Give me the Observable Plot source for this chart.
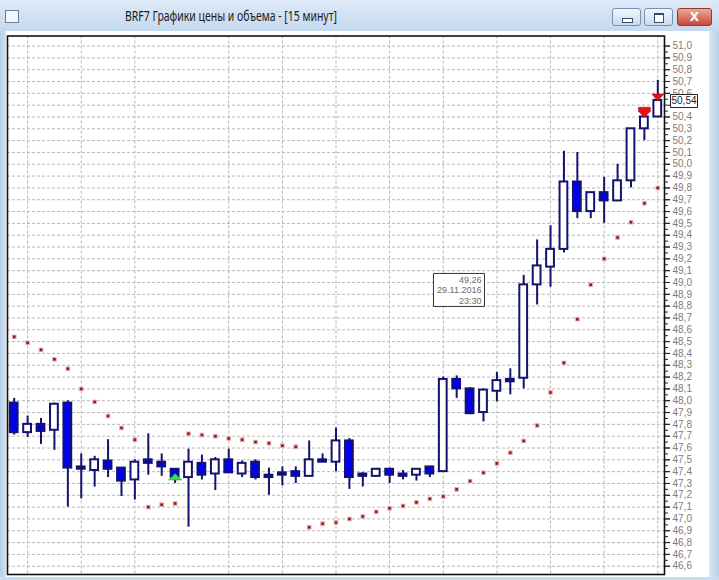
<!DOCTYPE html>
<html>
<head>
<meta charset="utf-8">
<script src="https://cdn.jsdelivr.net/npm/d3@7"></script>
<script src="https://cdn.jsdelivr.net/npm/@observablehq/plot@0.6"></script>
<style>
html,body{margin:0;padding:0;background:#fff;}
#win{position:relative;width:719px;height:580px;overflow:hidden;background:#fff;font-family:"Noto Sans",sans-serif;}
#titlebar{position:absolute;left:0;top:0;width:719px;height:31px;background:linear-gradient(#dde9f7,#c5d9ef);}
#title{position:absolute;top:7px;left:125px;white-space:nowrap;font-size:14px;line-height:18px;color:#1a1a1a;transform-origin:0 50%;}
#icon{position:absolute;left:5px;top:10px;width:12px;height:11px;border:1px solid #6a7f99;background:#f4f7fb;}
#lb{position:absolute;left:0;top:31px;width:6px;height:549px;background:linear-gradient(90deg,#b7cde8,#d3e2f4);}
#rb{position:absolute;left:709px;top:31px;width:10px;height:549px;background:linear-gradient(90deg,#dce8f6,#b8cfea);}
#bb{position:absolute;left:0;top:577px;width:719px;height:3px;background:#c9dbef;}
#chart{position:absolute;left:0;top:31px;}
.btn{position:absolute;top:8px;height:18px;border:1px solid #7890ae;border-radius:3px;background:linear-gradient(#f2f6fb,#c9daee);box-sizing:border-box;}
.btn.close{border-color:#8e3b30;background:linear-gradient(#eba996,#c8483a);color:#fff;font:bold 12px "DejaVu Sans",sans-serif;text-align:center;line-height:16px;}
.mini{position:absolute;left:9px;top:9px;width:9px;height:3px;border:1px solid #3b4d66;background:#fff;}
.maxi{position:absolute;left:9px;top:4px;width:8px;height:7px;border:1px solid #3b4d66;border-top-width:2px;background:#fff;}
</style>
</head>
<body>
<div id="win">
  <div id="titlebar">
    <div id="icon"></div>
    <span id="title">BRF7 Графики цены и объема - [15 минут]</span>
    <div class="btn" style="left:612px;width:29px;"><div class="mini"></div></div>
    <div class="btn" style="left:644px;width:29px;"><div class="maxi"></div></div>
    <div class="btn close" style="left:677px;width:35px;">X</div>
  </div>
  <div id="lb"></div>
  <div id="rb"></div>
  <div id="chart"></div>
  <div id="bb"></div>
</div>
<script>
// ---- data (15-minute candles, index 0..48) ----
const opens  = [47.98,47.73,47.80,47.75,47.98,47.44,47.41,47.49,47.43,47.33,47.50,47.48,47.42,47.35,47.47,47.38,47.50,47.38,47.48,47.37,47.39,47.40,47.36,47.50,47.48,47.66,47.38,47.36,47.42,47.38,47.37,47.44,47.40,48.18,48.10,47.90,48.08,48.18,48.19,48.98,49.13,49.28,49.85,49.60,49.76,49.69,49.86,50.30,50.40];
const highs  = [48.02,47.87,47.85,47.98,48.00,47.55,47.53,47.67,47.43,47.50,47.72,47.55,47.42,47.59,47.54,47.52,47.59,47.49,47.50,47.43,47.44,47.44,47.66,47.55,47.77,47.68,47.39,47.42,47.43,47.41,47.42,47.44,48.20,48.21,48.11,48.10,48.24,48.27,49.06,49.36,49.48,50.11,50.10,49.76,49.89,50.00,50.30,50.43,50.71];
const lows   = [47.71,47.69,47.63,47.58,47.10,47.17,47.27,47.35,47.19,47.16,47.37,47.36,47.30,46.93,47.33,47.24,47.39,47.35,47.33,47.20,47.28,47.30,47.36,47.48,47.40,47.25,47.27,47.36,47.30,47.33,47.32,47.35,47.40,48.02,47.89,47.82,47.99,48.05,48.10,48.81,48.96,49.25,49.54,49.54,49.50,49.69,49.80,50.20,50.40];
const closes = [47.73,47.80,47.74,47.97,47.43,47.42,47.50,47.42,47.32,47.48,47.47,47.44,47.35,47.48,47.37,47.50,47.39,47.47,47.35,47.35,47.37,47.36,47.50,47.48,47.66,47.35,47.36,47.42,47.37,47.36,47.42,47.38,48.18,48.10,47.89,48.09,48.17,48.16,48.98,49.14,49.28,49.85,49.60,49.76,49.69,49.86,50.30,50.40,50.54];
// parabolic SAR dots
const sar = [48.54,48.49,48.43,48.35,48.27,48.10,47.99,47.87,47.77,47.67,47.10,47.12,47.13,47.72,47.71,47.70,47.68,47.67,47.65,47.64,47.62,47.61,46.93,46.96,46.97,47.00,47.02,47.06,47.09,47.11,47.14,47.17,47.19,47.25,47.32,47.39,47.47,47.56,47.66,47.79,48.07,48.32,48.69,48.98,49.20,49.38,49.51,49.67,49.80];
// signals
const buyIdx = [12], buyPrice = [47.355];
const sellIdx = [47, 48], sellPrice = [50.44, 50.565];
// vertical time grid (candle index of each hour line)
const gridIdx = [1,5,9,16,20,24,28,32,36,40,44,48];
// price ticks
const yTicks = [46.6,46.7,46.8,46.9,47.0,47.1,47.2,47.3,47.4,47.5,47.6,47.7,47.8,47.9,48.0,48.1,48.2,48.3,48.4,48.5,48.6,48.7,48.8,48.9,49.0,49.1,49.2,49.3,49.4,49.5,49.6,49.7,49.8,49.9,50.0,50.1,50.2,50.3,50.4,50.5,50.6,50.7,50.8,50.9,51.0];
const lastPrice = 50.54, lastLabel = "50,54";
const tipLines = ["49,26", "29.11.2016", "23:30"];
const tipPrice = 48.937, tipIdxBox = 33, tipIdxText = 35;

const candles = opens.map((o, i) => ({i, o, h: highs[i], l: lows[i], c: closes[i]}));
const sarData = sar.map((v, i) => ({i, v}));
const minorTicks = yTicks.slice(0, -1).map(t => +(t + 0.05).toFixed(2));
const idx = candles.map(d => d.i);
// the tick label hidden under the last-price box in the original is not drawn
const labelTicks = yTicks.filter(t => Math.abs(t - lastPrice) > 0.05);

const navy = "#13136f";
const flatUp = {draw(ctx){ctx.moveTo(0,-3.5);ctx.lineTo(6.5,3);ctx.lineTo(-6.5,3);ctx.closePath();}};
const sellShapes = [
  {draw(ctx){ctx.moveTo(-6,-5);ctx.lineTo(6,-5);ctx.lineTo(6,-1);ctx.lineTo(0,5);ctx.lineTo(-6,-1);ctx.closePath();}},
  {draw(ctx){ctx.moveTo(-6,-3.5);ctx.lineTo(6,-3.5);ctx.lineTo(0,3.5);ctx.closePath();}}
];
const rectSym = (w, h) => ({draw(ctx){ctx.rect(-w/2,-h/2,w,h);}});

const dash = {stroke: "#b8b8b8", strokeDasharray: "3,2", strokeWidth: 1};

const chart = Plot.plot({
  width: 709,
  height: 545,
  marginLeft: 7,
  marginRight: 45,
  marginTop: 4.5,
  marginBottom: 2,
  style: {fontFamily: "'Liberation Sans', Arial, sans-serif", fontSize: "10px", background: "transparent"},
  x: {type: "band", domain: idx, paddingInner: 0.42, paddingOuter: 0.21, round: false, axis: null},
  y: {domain: [46.53, 51.085]},
  marks: [
    Plot.ruleY(yTicks, {y: d => d, ...dash}),
    Plot.ruleX(gridIdx, {x: d => d, ...dash}),
    Plot.dot(sarData, {x: "i", y: "v", symbol: "square", r: 2.1, fill: "#8a1d1d", stroke: "#f2b8b8", strokeWidth: 1.2, strokeOpacity: 0.8}),
    Plot.ruleX(candles, {x: "i", y1: "l", y2: "h", stroke: navy, strokeWidth: 2}),
    Plot.barY(candles.filter(d => d.c >= d.o), {x: "i", y1: "o", y2: "c", fill: "#fff", stroke: navy, strokeWidth: 2}),
    Plot.barY(candles.filter(d => d.c < d.o), {x: "i", y1: "o", y2: "c", fill: "#0000ee", stroke: navy, strokeWidth: 2}),
    Plot.dot(buyIdx.map((i, k) => ({i, v: buyPrice[k]})), {x: "i", y: "v", symbol: flatUp, r: 5, fill: "#35e04c", stroke: "#1fa83a", strokeWidth: 0.6}),
    Plot.dot(sellIdx.map((i, k) => ({i, v: sellPrice[k], k})).filter(d => d.k === 0), {x: "i", y: "v", symbol: sellShapes[0], r: 5, fill: "#e51212", stroke: "#b00000", strokeWidth: 0.5}),
    Plot.dot(sellIdx.map((i, k) => ({i, v: sellPrice[k], k})).filter(d => d.k === 1), {x: "i", y: "v", symbol: sellShapes[1], r: 5, fill: "#e51212", stroke: "#b00000", strokeWidth: 0.5}),
    Plot.frame({stroke: "#111", strokeWidth: 1.6}),
    Plot.axisY(minorTicks, {anchor: "right", tickSize: 3, tickFormat: () => "", stroke: "#222"}),
    Plot.axisY(yTicks, {anchor: "right", tickSize: 5, tickFormat: () => "", stroke: "#222"}),
    Plot.axisY(labelTicks, {anchor: "right", tickSize: 5, tickPadding: 3, tickFormat: d => d.toFixed(1).replace(".", ","), fill: "#7c7c7c", stroke: "#222", fontSize: 10}),
    Plot.dot([lastPrice], {y: d => d - 0.005, frameAnchor: "right", dx: 19.5, symbol: rectSym(27, 13), r: 5, fill: "#fff", stroke: "#222", strokeWidth: 1}),
    Plot.text([lastLabel], {y: () => lastPrice, text: d => d, frameAnchor: "right", dx: 19.5, textAnchor: "middle", fill: "#222", fontSize: 10}),
    Plot.dot([tipPrice], {x: () => tipIdxBox, y: d => d, dx: 2.3, symbol: rectSym(51, 33), r: 5, fill: "#fff", stroke: "#333", strokeWidth: 1}),
    Plot.text([tipLines.join("\n")], {x: () => tipIdxText, y: () => tipPrice, text: d => d, dx: -2, textAnchor: "end", lineHeight: 1.2, fill: "#6c6c6c", fontSize: 9})
  ]
});
document.getElementById("chart").appendChild(chart);

// squeeze title to the window's title width
const t = document.getElementById("title");
const w = t.getBoundingClientRect().width;
t.style.transform = `scaleX(${212 / w})`;
</script>
</body>
</html>
